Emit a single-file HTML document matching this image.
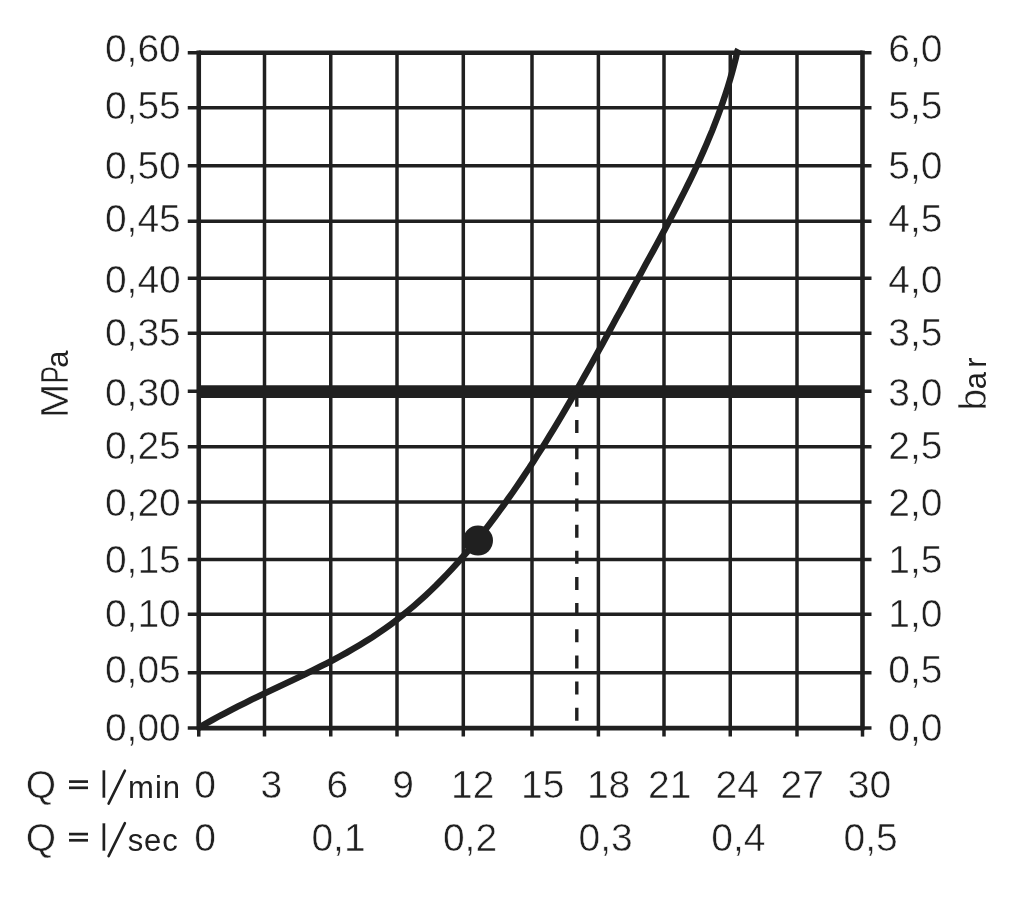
<!DOCTYPE html>
<html><head><meta charset="utf-8"><style>
html,body{margin:0;padding:0;background:#fff;overflow:hidden;}
svg{display:block;will-change:transform;}
text{font-family:"Liberation Sans",sans-serif;font-size:39px;fill:#202020;stroke:#fff;stroke-width:0.55px;}
</style></head><body>
<svg width="1024" height="897" viewBox="0 0 1024 897">
<rect width="1024" height="897" fill="#fff"/>
<g stroke="#202020" fill="none">
<line x1="264.5" y1="52.8" x2="264.5" y2="736.6" stroke-width="3.5"/>
<line x1="330.75" y1="52.8" x2="330.75" y2="736.6" stroke-width="3.5"/>
<line x1="397" y1="52.8" x2="397" y2="736.6" stroke-width="3.5"/>
<line x1="463.3" y1="52.8" x2="463.3" y2="736.6" stroke-width="3.5"/>
<line x1="532" y1="52.8" x2="532" y2="736.6" stroke-width="3.5"/>
<line x1="598.4" y1="52.8" x2="598.4" y2="736.6" stroke-width="3.5"/>
<line x1="664" y1="52.8" x2="664" y2="736.6" stroke-width="3.5"/>
<line x1="730.25" y1="52.8" x2="730.25" y2="736.6" stroke-width="3.5"/>
<line x1="797" y1="52.8" x2="797" y2="736.6" stroke-width="3.5"/>
<line x1="187.75" y1="107.8" x2="871.5" y2="107.8" stroke-width="3.5"/>
<line x1="187.75" y1="165.8" x2="871.5" y2="165.8" stroke-width="3.5"/>
<line x1="187.75" y1="221.2" x2="871.5" y2="221.2" stroke-width="3.5"/>
<line x1="187.75" y1="278.3" x2="871.5" y2="278.3" stroke-width="3.5"/>
<line x1="187.75" y1="333.2" x2="871.5" y2="333.2" stroke-width="3.5"/>
<line x1="187.75" y1="391.3" x2="871.5" y2="391.3" stroke-width="3.5"/>
<line x1="187.75" y1="446.7" x2="871.5" y2="446.7" stroke-width="3.5"/>
<line x1="187.75" y1="502.1" x2="871.5" y2="502.1" stroke-width="3.5"/>
<line x1="187.75" y1="559.6" x2="871.5" y2="559.6" stroke-width="3.5"/>
<line x1="187.75" y1="614.3" x2="871.5" y2="614.3" stroke-width="3.5"/>
<line x1="187.75" y1="672.8" x2="871.5" y2="672.8" stroke-width="3.5"/>
<line x1="187.75" y1="52.8" x2="871.5" y2="52.8" stroke-width="3.5"/>
<line x1="187.75" y1="728.1" x2="871.5" y2="728.1" stroke-width="3.5"/>
<line x1="198.75" y1="52.8" x2="862.5" y2="52.8" stroke-width="4.6"/>
<line x1="198.75" y1="728.1" x2="862.5" y2="728.1" stroke-width="4.6"/>
<line x1="198.75" y1="50.5" x2="198.75" y2="730.3000000000001" stroke-width="4.6"/>
<line x1="862.5" y1="50.5" x2="862.5" y2="730.3000000000001" stroke-width="4.6"/>
<line x1="198.75" y1="728.1" x2="198.75" y2="736.6" stroke-width="3.5"/>
<line x1="862.5" y1="728.1" x2="862.5" y2="736.6" stroke-width="3.5"/>
<line x1="198.75" y1="391.6" x2="862.5" y2="391.6" stroke-width="12.6"/>
<line x1="576.8" y1="393.84" x2="576.8" y2="726" stroke-width="3.4" stroke-dasharray="13 13.16"/>
<path d="M198.7,727.8 L205.1,724.1 L211.6,720.4 L218.1,716.8 L224.7,713.3 L231.3,709.8 L238.0,706.4 L244.8,703.1 L251.5,699.7 L258.4,696.4 L265.2,693.2 L272.0,689.9 L278.9,686.6 L285.8,683.4 L292.7,680.1 L299.5,676.8 L306.4,673.5 L313.2,670.1 L320.0,666.7 L326.7,663.3 L333.5,659.8 L340.1,656.2 L346.7,652.6 L353.3,648.8 L359.8,645.0 L366.2,641.1 L372.5,637.1 L378.7,632.9 L384.9,628.6 L390.9,624.3 L396.9,619.8 L402.8,615.1 L408.5,610.4 L414.2,605.6 L419.8,600.7 L425.4,595.6 L430.8,590.5 L436.2,585.3 L441.4,580.0 L446.6,574.6 L451.8,569.1 L456.8,563.6 L461.8,558.0 L466.7,552.3 L471.6,546.6 L476.4,540.8 L481.1,534.9 L485.8,529.0 L490.4,523.0 L494.9,517.0 L499.4,510.9 L503.9,504.8 L508.2,498.7 L512.6,492.5 L516.9,486.3 L521.1,480.1 L525.3,473.8 L529.5,467.6 L533.6,461.2 L537.6,454.9 L541.7,448.5 L545.7,442.1 L549.6,435.7 L553.5,429.3 L557.4,422.8 L561.3,416.4 L565.1,409.9 L568.9,403.3 L572.7,396.8 L576.5,390.3 L580.2,383.7 L583.9,377.1 L587.6,370.6 L591.3,364.0 L595.0,357.4 L598.6,350.8 L602.3,344.2 L605.9,337.5 L609.5,330.9 L613.1,324.3 L616.7,317.6 L620.4,311.0 L624.0,304.4 L627.6,297.7 L631.2,291.1 L634.8,284.5 L638.4,277.9 L642.0,271.3 L645.6,264.6 L649.2,258.0 L652.9,251.4 L656.5,244.8 L660.0,238.2 L663.6,231.6 L667.2,224.9 L670.7,218.3 L674.2,211.6 L677.6,205.0 L681.0,198.3 L684.4,191.6 L687.8,184.8 L691.1,178.1 L694.3,171.3 L697.5,164.5 L700.6,157.7 L703.6,150.9 L706.6,144.0 L709.5,137.1 L712.4,130.1 L715.1,123.1 L717.8,116.1 L720.4,109.0 L722.9,101.9 L725.3,94.8 L727.6,87.6 L729.8,80.3 L731.9,73.0 L733.9,65.7 L735.8,58.3 L737.5,50.8 L738.3,49.3" stroke-width="6.4"/>
<circle cx="478" cy="540.6" r="15" fill="#202020" stroke="none"/>
<line x1="69" y1="787.8" x2="88" y2="787.8" stroke-width="2.7"/>
<line x1="69" y1="781.6" x2="88" y2="781.6" stroke-width="2.7"/>
<line x1="108.6" y1="803.6" x2="124.9" y2="770.6" stroke-width="2.6" stroke-linecap="round"/>
<line x1="69" y1="840.3" x2="88" y2="840.3" stroke-width="2.7"/>
<line x1="69" y1="834.1" x2="88" y2="834.1" stroke-width="2.7"/>
<line x1="108.6" y1="856.1" x2="124.9" y2="823.1" stroke-width="2.6" stroke-linecap="round"/>
</g>
<g>
<text x="180.8" y="62.4" text-anchor="end">0,60</text>
<text x="180.8" y="119.0" text-anchor="end">0,55</text>
<text x="180.8" y="179.1" text-anchor="end">0,50</text>
<text x="180.8" y="232.4" text-anchor="end">0,45</text>
<text x="180.8" y="293.0" text-anchor="end">0,40</text>
<text x="180.8" y="345.6" text-anchor="end">0,35</text>
<text x="180.8" y="405.8" text-anchor="end">0,30</text>
<text x="180.8" y="458.9" text-anchor="end">0,25</text>
<text x="180.8" y="515.6" text-anchor="end">0,20</text>
<text x="180.8" y="572.9" text-anchor="end">0,15</text>
<text x="180.8" y="627.0" text-anchor="end">0,10</text>
<text x="180.8" y="682.7" text-anchor="end">0,05</text>
<text x="180.8" y="740.9" text-anchor="end">0,00</text>
<text x="888.3" y="62.4">6,0</text>
<text x="888.3" y="119.0">5,5</text>
<text x="888.3" y="179.1">5,0</text>
<text x="888.3" y="232.4">4,5</text>
<text x="888.3" y="293.0">4,0</text>
<text x="888.3" y="345.6">3,5</text>
<text x="888.3" y="405.8">3,0</text>
<text x="888.3" y="458.9">2,5</text>
<text x="888.3" y="515.6">2,0</text>
<text x="888.3" y="572.9">1,5</text>
<text x="888.3" y="627.0">1,0</text>
<text x="888.3" y="682.7">0,5</text>
<text x="888.3" y="740.9">0,0</text>
<text x="205" y="798" text-anchor="middle">0</text>
<text x="271.3" y="798" text-anchor="middle">3</text>
<text x="337.3" y="798" text-anchor="middle">6</text>
<text x="403.2" y="798" text-anchor="middle">9</text>
<text x="472.8" y="798" text-anchor="middle">12</text>
<text x="542.7" y="798" text-anchor="middle">15</text>
<text x="608.6" y="798" text-anchor="middle">18</text>
<text x="669.7" y="798" text-anchor="middle">21</text>
<text x="737.2" y="798" text-anchor="middle">24</text>
<text x="802.2" y="798" text-anchor="middle">27</text>
<text x="869.4" y="798" text-anchor="middle">30</text>
<text x="205" y="850.6" text-anchor="middle">0</text>
<text x="338.5" y="850.6" text-anchor="middle">0,1</text>
<text x="470" y="850.6" text-anchor="middle">0,2</text>
<text x="605.6" y="850.6" text-anchor="middle">0,3</text>
<text x="738.4" y="850.6" text-anchor="middle">0,4</text>
<text x="870.6" y="850.6" text-anchor="middle">0,5</text>
<text x="25.65" y="798.0">Q</text>
<text x="99.4" y="798.0">l</text>
<text x="128.1" y="798.0" style="font-size:31px;letter-spacing:1.0px;stroke:none">min</text>
<text x="25.65" y="850.5">Q</text>
<text x="99.4" y="850.5">l</text>
<text x="127.8" y="850.5" style="font-size:31px;letter-spacing:0.8px;stroke:none">sec</text>
<g transform="translate(67.7,0) rotate(-90)"><text x="-391" y="0" transform="scale(1.07,1)">M</text><text x="-580.8" y="0" transform="scale(0.66,1)">P</text><text x="-367.8" y="0" style="font-size:31px;stroke:none">a</text></g>
<g transform="translate(985.5,0) rotate(-90)"><text x="-410.5" y="0">b</text><text x="-389.3" y="0" style="font-size:31px;stroke:none">a</text><text x="-367.7" y="0" style="font-size:31px;stroke:none">r</text></g>
</g>
</svg>
</body></html>
